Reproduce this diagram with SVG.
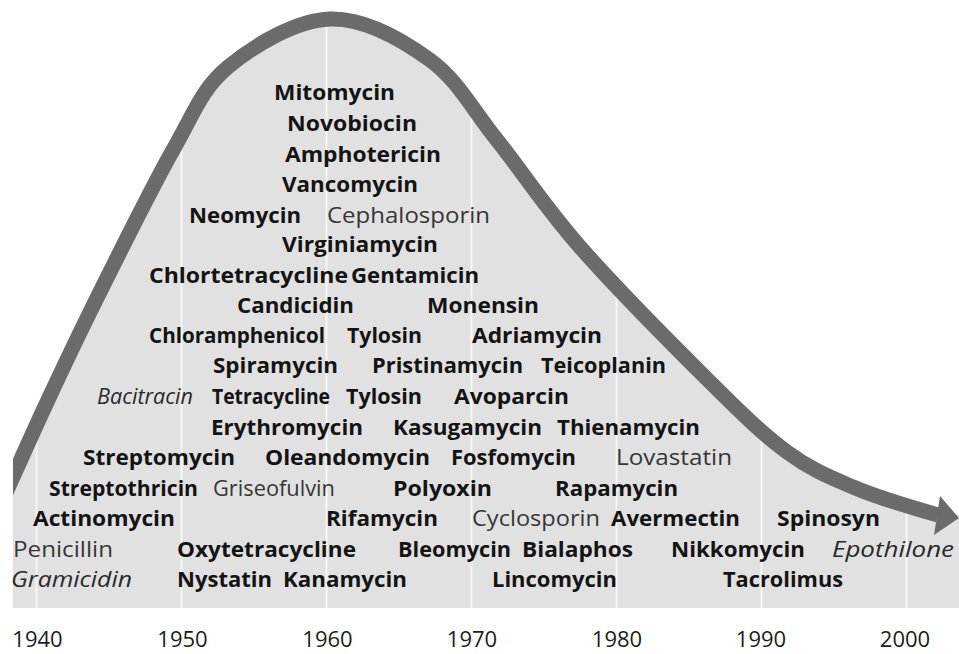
<svg xmlns="http://www.w3.org/2000/svg" width="959" height="654" viewBox="0 0 959 654">
<style>
text{font-family:"Open Sans","Noto Sans","Liberation Sans",sans-serif;font-size:22px;text-anchor:start}
.b{font-weight:bold;fill:#141414}
.r{font-weight:normal;fill:#363636}
.i{font-weight:normal;font-style:italic;fill:#2a2a2a}
.yr{font-weight:normal;fill:#1c1c1c;font-size:22px;text-anchor:middle}
.grid line{stroke:#f6f6f6;stroke-width:2}
</style>
<defs>
<clipPath id="area"><rect x="13" y="0" width="946" height="608"/></clipPath>
<clipPath id="under"><path d="M4,497 C11.3,480.8 32.7,432.8 48,400 C63.3,367.2 75.2,341.7 96,300 C116.8,258.3 151,188.8 173,150 C195,111.2 201.8,88.8 228,67 C254.2,45.2 296.3,20.2 330,19 C363.7,17.8 402.2,39.8 430,60 C457.8,80.2 472,108.8 497,140 C522,171.2 544.5,206.7 580,247 C615.5,287.3 675.5,347.8 710,382 C744.5,416.2 763.2,434.5 787,452 C810.8,469.5 828.3,476.5 853,487 C877.7,497.5 921.3,510.3 937,515 L959,515 L959,608 L0,608 Z"/></clipPath>
</defs>
<g id="background" clip-path="url(#area)">
<path d="M4,497 C11.3,480.8 32.7,432.8 48,400 C63.3,367.2 75.2,341.7 96,300 C116.8,258.3 151,188.8 173,150 C195,111.2 201.8,88.8 228,67 C254.2,45.2 296.3,20.2 330,19 C363.7,17.8 402.2,39.8 430,60 C457.8,80.2 472,108.8 497,140 C522,171.2 544.5,206.7 580,247 C615.5,287.3 675.5,347.8 710,382 C744.5,416.2 763.2,434.5 787,452 C810.8,469.5 828.3,476.5 853,487 C877.7,497.5 921.3,510.3 937,515 L959,515 L959,608 L0,608 Z" fill="#e1e1e1"/>
<g class="grid" clip-path="url(#under)">
<line x1="36.5" y1="0" x2="36.5" y2="608"/>
<line x1="181.5" y1="0" x2="181.5" y2="608"/>
<line x1="326.5" y1="0" x2="326.5" y2="608"/>
<line x1="471.5" y1="0" x2="471.5" y2="608"/>
<line x1="616.5" y1="0" x2="616.5" y2="608"/>
<line x1="761.5" y1="0" x2="761.5" y2="608"/>
<line x1="906.5" y1="0" x2="906.5" y2="608"/>
</g>
</g>
<g id="connectors">
<g id="trend-arrow" clip-path="url(#area)">
<path d="M4,497 C11.3,480.8 32.7,432.8 48,400 C63.3,367.2 75.2,341.7 96,300 C116.8,258.3 151,188.8 173,150 C195,111.2 201.8,88.8 228,67 C254.2,45.2 296.3,20.2 330,19 C363.7,17.8 402.2,39.8 430,60 C457.8,80.2 472,108.8 497,140 C522,171.2 544.5,206.7 580,247 C615.5,287.3 675.5,347.8 710,382 C744.5,416.2 763.2,434.5 787,452 C810.8,469.5 828.3,476.5 853,487 C877.7,497.5 921.3,510.3 938,515" fill="none" stroke="#6b6b6b" stroke-width="15"/>
<polygon points="940,496 959,518 934,535" fill="#6b6b6b"/>
</g>
</g>
<g id="years">
<text class="yr" x="37.5" y="647">1940</text>
<text class="yr" x="182.5" y="647">1950</text>
<text class="yr" x="327.5" y="647">1960</text>
<text class="yr" x="472" y="647">1970</text>
<text class="yr" x="617" y="647">1980</text>
<text class="yr" x="761" y="647">1990</text>
<text class="yr" x="905" y="647">2000</text>
</g>
<g id="labels">
<g id="n-mitomycin"><text class="b" x="274" y="100" textLength="121" lengthAdjust="spacingAndGlyphs">Mitomycin</text></g>
<g id="n-novobiocin"><text class="b" x="287" y="131" textLength="130" lengthAdjust="spacingAndGlyphs">Novobiocin</text></g>
<g id="n-amphotericin"><text class="b" x="285" y="162" textLength="156" lengthAdjust="spacingAndGlyphs">Amphotericin</text></g>
<g id="n-vancomycin"><text class="b" x="282" y="192" textLength="136" lengthAdjust="spacingAndGlyphs">Vancomycin</text></g>
<g id="n-neomycin"><text class="b" x="189" y="223" textLength="112" lengthAdjust="spacingAndGlyphs">Neomycin</text></g>
<g id="n-cephalosporin"><text class="r" x="327" y="223" textLength="163" lengthAdjust="spacingAndGlyphs">Cephalosporin</text></g>
<g id="n-virginiamycin"><text class="b" x="282" y="252" textLength="156" lengthAdjust="spacingAndGlyphs">Virginiamycin</text></g>
<g id="n-chlortetracycline"><text class="b" x="149" y="283" textLength="199" lengthAdjust="spacingAndGlyphs">Chlortetracycline</text></g>
<g id="n-gentamicin"><text class="b" x="351" y="283" textLength="128" lengthAdjust="spacingAndGlyphs">Gentamicin</text></g>
<g id="n-candicidin"><text class="b" x="237" y="313" textLength="117" lengthAdjust="spacingAndGlyphs">Candicidin</text></g>
<g id="n-monensin"><text class="b" x="427" y="313" textLength="112" lengthAdjust="spacingAndGlyphs">Monensin</text></g>
<g id="n-chloramphenicol"><text class="b" x="149" y="343" textLength="176" lengthAdjust="spacingAndGlyphs">Chloramphenicol</text></g>
<g id="n-tylosin-1"><text class="b" x="347" y="343" textLength="75" lengthAdjust="spacingAndGlyphs">Tylosin</text></g>
<g id="n-adriamycin"><text class="b" x="472" y="343" textLength="130" lengthAdjust="spacingAndGlyphs">Adriamycin</text></g>
<g id="n-spiramycin"><text class="b" x="213" y="373" textLength="125" lengthAdjust="spacingAndGlyphs">Spiramycin</text></g>
<g id="n-pristinamycin"><text class="b" x="372" y="373" textLength="151" lengthAdjust="spacingAndGlyphs">Pristinamycin</text></g>
<g id="n-teicoplanin"><text class="b" x="541" y="373" textLength="125" lengthAdjust="spacingAndGlyphs">Teicoplanin</text></g>
<g id="n-bacitracin"><text class="i" x="97" y="404" textLength="96" lengthAdjust="spacingAndGlyphs">Bacitracin</text></g>
<g id="n-tetracycline"><text class="b" x="212" y="404" textLength="118" lengthAdjust="spacingAndGlyphs">Tetracycline</text></g>
<g id="n-tylosin-2"><text class="b" x="346" y="404" textLength="76" lengthAdjust="spacingAndGlyphs">Tylosin</text></g>
<g id="n-avoparcin"><text class="b" x="454" y="404" textLength="115" lengthAdjust="spacingAndGlyphs">Avoparcin</text></g>
<g id="n-erythromycin"><text class="b" x="211" y="435" textLength="152" lengthAdjust="spacingAndGlyphs">Erythromycin</text></g>
<g id="n-kasugamycin"><text class="b" x="393" y="435" textLength="149" lengthAdjust="spacingAndGlyphs">Kasugamycin</text></g>
<g id="n-thienamycin"><text class="b" x="557" y="435" textLength="143" lengthAdjust="spacingAndGlyphs">Thienamycin</text></g>
<g id="n-streptomycin"><text class="b" x="83" y="465" textLength="152" lengthAdjust="spacingAndGlyphs">Streptomycin</text></g>
<g id="n-oleandomycin"><text class="b" x="265" y="465" textLength="165" lengthAdjust="spacingAndGlyphs">Oleandomycin</text></g>
<g id="n-fosfomycin"><text class="b" x="451" y="465" textLength="125" lengthAdjust="spacingAndGlyphs">Fosfomycin</text></g>
<g id="n-lovastatin"><text class="r" x="616" y="465" textLength="116" lengthAdjust="spacingAndGlyphs">Lovastatin</text></g>
<g id="n-streptothricin"><text class="b" x="49" y="496" textLength="149" lengthAdjust="spacingAndGlyphs">Streptothricin</text></g>
<g id="n-griseofulvin"><text class="r" x="213" y="496" textLength="122" lengthAdjust="spacingAndGlyphs">Griseofulvin</text></g>
<g id="n-polyoxin"><text class="b" x="393" y="496" textLength="99" lengthAdjust="spacingAndGlyphs">Polyoxin</text></g>
<g id="n-rapamycin"><text class="b" x="555" y="496" textLength="123" lengthAdjust="spacingAndGlyphs">Rapamycin</text></g>
<g id="n-actinomycin"><text class="b" x="33" y="526" textLength="142" lengthAdjust="spacingAndGlyphs">Actinomycin</text></g>
<g id="n-rifamycin"><text class="b" x="326" y="526" textLength="112" lengthAdjust="spacingAndGlyphs">Rifamycin</text></g>
<g id="n-cyclosporin"><text class="r" x="472" y="526" textLength="128" lengthAdjust="spacingAndGlyphs">Cyclosporin</text></g>
<g id="n-avermectin"><text class="b" x="611" y="526" textLength="129" lengthAdjust="spacingAndGlyphs">Avermectin</text></g>
<g id="n-spinosyn"><text class="b" x="777" y="526" textLength="103" lengthAdjust="spacingAndGlyphs">Spinosyn</text></g>
<g id="n-penicillin"><text class="r" x="13" y="557" textLength="100" lengthAdjust="spacingAndGlyphs">Penicillin</text></g>
<g id="n-oxytetracycline"><text class="b" x="177" y="557" textLength="179" lengthAdjust="spacingAndGlyphs">Oxytetracycline</text></g>
<g id="n-bleomycin"><text class="b" x="398" y="557" textLength="113" lengthAdjust="spacingAndGlyphs">Bleomycin</text></g>
<g id="n-bialaphos"><text class="b" x="522" y="557" textLength="111" lengthAdjust="spacingAndGlyphs">Bialaphos</text></g>
<g id="n-nikkomycin"><text class="b" x="671" y="557" textLength="134" lengthAdjust="spacingAndGlyphs">Nikkomycin</text></g>
<g id="n-epothilone"><text class="i" x="832" y="557" textLength="122" lengthAdjust="spacingAndGlyphs">Epothilone</text></g>
<g id="n-gramicidin"><text class="i" x="11" y="587" textLength="121" lengthAdjust="spacingAndGlyphs">Gramicidin</text></g>
<g id="n-nystatin"><text class="b" x="177" y="587" textLength="95" lengthAdjust="spacingAndGlyphs">Nystatin</text></g>
<g id="n-kanamycin"><text class="b" x="283" y="587" textLength="124" lengthAdjust="spacingAndGlyphs">Kanamycin</text></g>
<g id="n-lincomycin"><text class="b" x="492" y="587" textLength="125" lengthAdjust="spacingAndGlyphs">Lincomycin</text></g>
<g id="n-tacrolimus"><text class="b" x="723" y="587" textLength="120" lengthAdjust="spacingAndGlyphs">Tacrolimus</text></g>
</g>
</svg>
